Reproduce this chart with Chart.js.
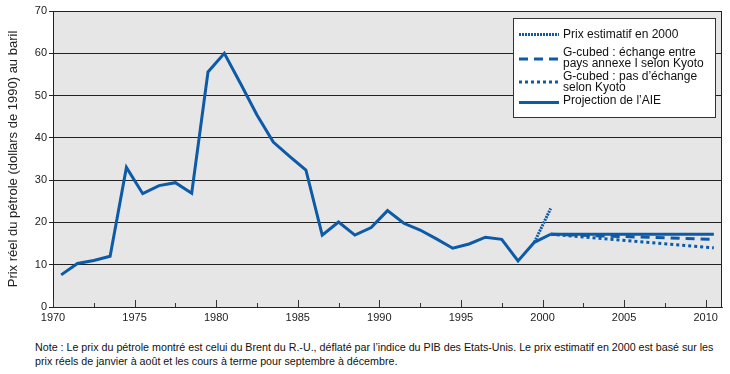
<!DOCTYPE html>
<html>
<head>
<meta charset="utf-8">
<script src="https://cdn.jsdelivr.net/npm/chart.js@4"></script>
<style>
  body { margin: 0; background: #fff; font-family: "Liberation Sans", Arial, sans-serif; }
  #wrap { position: relative; width: 730px; height: 330px; }
  #note { position: absolute; left: 35px; top: 340px; font-size: 10.7px; line-height: 14px; color: #111; white-space: nowrap; }
</style>
</head>
<body>
<div id="wrap"><canvas id="chart"></canvas></div>
<div id="note">Note : Le prix du pétrole montré est celui du Brent du R.-U., déflaté par l’indice du PIB des Etats-Unis. Le prix estimatif en 2000 est basé sur les<br>prix réels de janvier à août et les cours à terme pour septembre à décembre.</div>
<script>
// historique (milieu d'année)
const histYears = [1970.5, 1971.5, 1972.5, 1973.5, 1974.5, 1975.5, 1976.5, 1977.5, 1978.5, 1979.5,
                   1980.5, 1981.5, 1982.5, 1983.5, 1984.5, 1985.5, 1986.5, 1987.5, 1988.5, 1989.5,
                   1990.5, 1991.5, 1992.5, 1993.5, 1994.5, 1995.5, 1996.5, 1997.5, 1998.5, 1999.5, 2000.5];
const histPrice = [7.6, 10.3, 11.0, 12.0, 33.0, 26.8, 28.7, 29.4, 26.9, 55.6,
                   60.0, 52.8, 45.4, 39.0, 35.6, 32.4, 17.0, 20.1, 17.0, 18.8,
                   22.8, 19.8, 18.2, 16.1, 13.9, 14.9, 16.5, 16.0, 10.9, 15.3, 17.2];

// estimation 2000 et projections
const estimYears = [1999.5, 2000.5];
const estimPrice = [15.3, 23.3];
const projYears = [2000.5, 2010.5];
const gcubedTrade = [17.2, 16.0];
const gcubedNoTrade = [17.2, 14.0];
const ieaProj = [17.2, 17.2];

const tickYears = [1970, 1975, 1980, 1985, 1990, 1995, 2000, 2005, 2010];
const minorYears = [1972.5, 1977.5, 1982.5, 1987.5, 1992.5, 1997.5, 2002.5, 2007.5];

const blue = "#0d5aa7";
const pts = (xs, ys) => xs.map((x, i) => ({ x, y: ys[i] }));

const lineDs = (data, dash, legend) => ({
    data, borderColor: blue, borderWidth: 3, borderDash: dash,
    pointRadius: 0, fill: false, tension: 0, legendText: legend
});

const datasets = [
    lineDs(pts(projYears, gcubedNoTrade), [3, 3], ["G-cubed : pas d’échange", "selon Kyoto"]),
    lineDs(pts(projYears, gcubedTrade), [9, 6], ["G-cubed : échange entre", "pays annexe I selon Kyoto"]),
    lineDs(pts(estimYears, estimPrice), [2, 1], ["Prix estimatif en 2000"]),
    lineDs(pts(projYears, ieaProj), [], ["Projection de l’AIE"]),
    lineDs(pts(histYears, histPrice), [], null)
];

// === fond gris + cadre + petites graduations internes ===
const plotFrame = {
    id: "plotFrame",
    beforeDraw(chart) {
        const { ctx, chartArea: a } = chart;
        ctx.save();
        ctx.fillStyle = "#e6e6e6";
        ctx.fillRect(a.left, a.top, a.right - a.left, a.bottom - a.top);
        ctx.restore();
    },
    afterDatasetsDraw(chart) {
        const { ctx, chartArea: a, scales } = chart;
        ctx.save();
        ctx.strokeStyle = "#222";
        ctx.lineWidth = 1;
        ctx.strokeRect(a.left + 0.5, a.top + 0.5, a.right - a.left - 1, a.bottom - a.top);
        ctx.strokeStyle = "#333";
        const tick = (v, len) => {
            const x = Math.round(scales.x.getPixelForValue(v)) + 0.5;
            ctx.beginPath();
            ctx.moveTo(x, a.bottom);
            ctx.lineTo(x, a.bottom - len);
            ctx.stroke();
        };
        tickYears.forEach(v => tick(v, 7));
        minorYears.forEach(v => tick(v, 4));
        ctx.restore();
    }
};

// === légende encadrée dans la zone du graphique ===
const boxLegend = {
    id: "boxLegend",
    afterDraw(chart) {
        const ctx = chart.ctx;
        const order = [2, 1, 0, 3];
        const sampleY = [34.5, 59, 82, 102.5];
        const textY = [35, 53, 77, 101];
        ctx.save();
        ctx.fillStyle = "#fff";
        ctx.fillRect(513, 18, 202, 99);
        ctx.strokeStyle = "#333";
        ctx.lineWidth = 1;
        ctx.strokeRect(513.5, 18.5, 202, 99);
        ctx.font = "12px 'Liberation Sans', Arial, sans-serif";
        ctx.textBaseline = "middle";
        order.forEach((di, i) => {
            const ds = chart.data.datasets[di];
            ctx.strokeStyle = ds.borderColor;
            ctx.lineWidth = ds.borderWidth;
            ctx.setLineDash(ds.borderDash);
            ctx.beginPath();
            ctx.moveTo(519, sampleY[i]);
            ctx.lineTo(559, sampleY[i]);
            ctx.stroke();
            ctx.fillStyle = "#111";
            ds.legendText.forEach((t, j) => ctx.fillText(t, 563, textY[i] + j * 11));
        });
        ctx.restore();
    }
};

new Chart(document.getElementById("chart"), {
    type: "line",
    data: { datasets },
    options: {
        responsive: true,
        maintainAspectRatio: false,
        animation: false,
        layout: { padding: { top: 11, right: 8, left: 0, bottom: 0 } },
        plugins: { legend: { display: false }, tooltip: { enabled: false } },
        scales: {
            x: {
                type: "linear", min: 1970, max: 2011,
                afterBuildTicks: (s) => { s.ticks = tickYears.map(v => ({ value: v })); },
                ticks: { color: "#222", font: { size: 11, family: "'Liberation Sans', Arial" }, padding: 4, maxRotation: 0, autoSkip: false, callback: (v) => String(v) },
                grid: { display: false, drawTicks: false },
                border: { display: true, color: "#444" },
                afterFit: (s) => { s.height = 23; }
            },
            y: {
                min: 0, max: 70,
                ticks: { stepSize: 10, padding: 2, color: "#222", font: { size: 11, family: "'Liberation Sans', Arial" } },
                grid: {
                    color: (c) => (c.tick && (c.tick.value === 0 || c.tick.value === 70)) ? "rgba(0,0,0,0)" : "#222",
                    borderDash: [3, 3], tickLength: 4, tickColor: "#222", tickBorderDash: [], lineWidth: 1
                },
                border: { display: true, color: "#222" },
                title: { display: true, text: "Prix réel du pétrole (dollars de 1990) au baril", color: "#222", font: { size: 13, family: "'Liberation Sans', Arial" }, padding: { top: 6, bottom: 0 } },
                afterFit: (s) => { s.width = 53; }
            }
        }
    },
    plugins: [plotFrame, boxLegend]
});
</script>
</body>
</html>
